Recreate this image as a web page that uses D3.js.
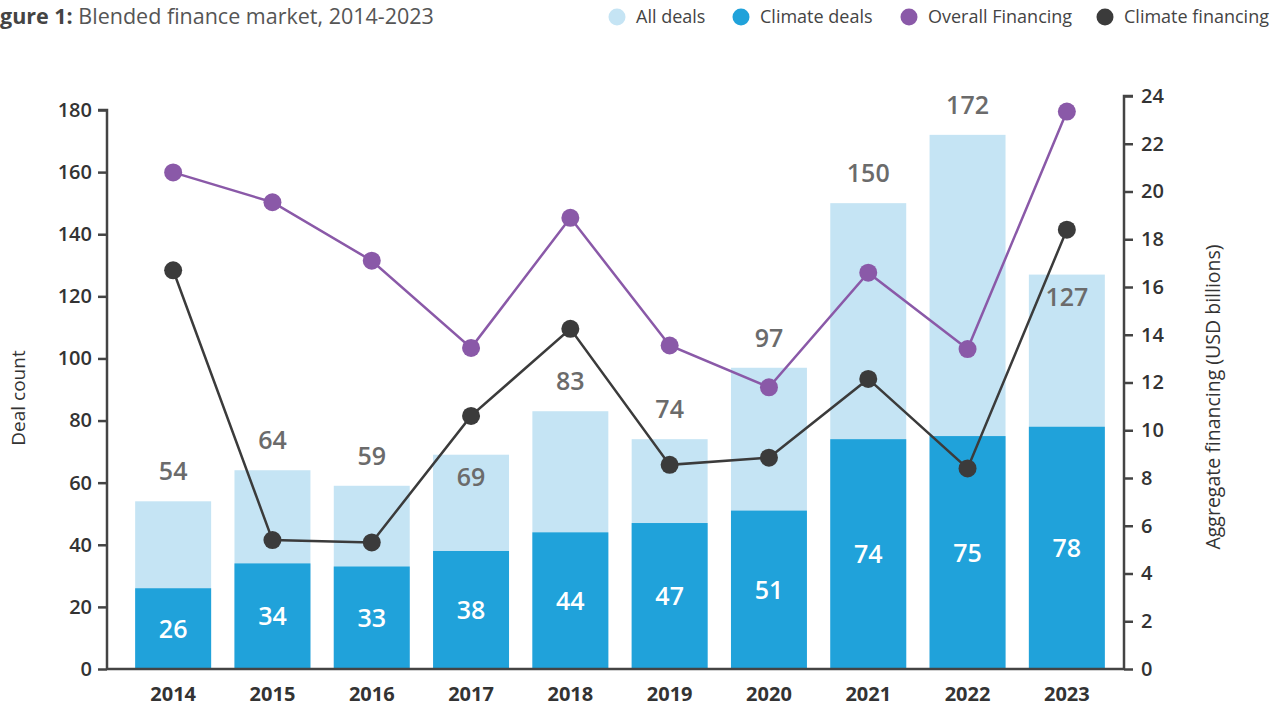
<!DOCTYPE html>
<html>
<head>
<meta charset="utf-8">
<script src="https://cdn.jsdelivr.net/npm/d3@7"></script>
<style>
  body { margin: 0; background: #fff; }
  svg text { font-family: "Open Sans", sans-serif; }
</style>
</head>
<body>
<script>
var width = 1282,
    height = 710;

// data
var years = ["2014", "2015", "2016", "2017", "2018", "2019", "2020", "2021", "2022", "2023"];
var allDeals = [54, 64, 59, 69, 83, 74, 97, 150, 172, 127];
var climateDeals = [26, 34, 33, 38, 44, 47, 51, 74, 75, 78];
var overallFinancing = [20.8, 19.55, 17.1, 13.45, 18.9, 13.55, 11.8, 16.6, 13.4, 23.35];
var climateFinancing = [16.7, 5.4, 5.3, 10.6, 14.25, 8.55, 8.85, 12.15, 8.4, 18.4];
var leftTicks = d3.range(0, 181, 20);
var rightTicks = d3.range(0, 25, 2);
// totals whose label sits inside the bar (to dodge the lines)
var insideTotals = ["2017", "2023"];

var legendItems = [
  {name: "All deals", color: "#c5e4f4"},
  {name: "Climate deals", color: "#20a2da"},
  {name: "Overall Financing", color: "#8a59a8"},
  {name: "Climate financing", color: "#3b3b3b"}
];

var axisColor = "#444",
    textColor = "#333";

var svg = d3.select("body").append("svg")
    .attr("width", width)
    .attr("height", height);

var x = d3.scaleBand()
    .domain(years)
    .range([123.5, 1116.5])
    .paddingInner(0.235)
    .paddingOuter(0.1175);

var yLeft = d3.scaleLinear().domain([0, 180]).range([669, 110]);
var yRight = d3.scaleLinear().domain([0, 24]).range([669, 96]);

// title, cut off at the left edge like the source
var title = svg.append("text")
    .attr("y", 24)
    .attr("font-size", 21.5)
    .attr("fill", "#555");
var t1 = title.append("tspan").attr("font-weight", 700).attr("fill", "#444").text("Figure 1:");
title.append("tspan").attr("font-weight", 400).text(" Blended finance market, 2014-2023");
var cut = t1.node().getSubStringLength(0, 2);
title.attr("x", -cut);

// legend
var legendX = [617, 741, 909, 1105];
var lg = svg.append("g").attr("class", "legend")
    .selectAll("g").data(legendItems)
  .enter().append("g")
    .attr("transform", (d, i) => "translate(" + legendX[i] + ",17)");
lg.append("circle").attr("r", 8.5).attr("fill", d => d.color);
lg.append("text")
    .attr("x", 19)
    .attr("dy", "0.35em")
    .attr("font-size", 18)
    .attr("fill", "#444")
    .text(d => d.name);

// bars
var bars = svg.append("g").attr("class", "bars");
bars.selectAll("rect.all").data(years)
  .enter().append("rect")
    .attr("class", "all")
    .attr("x", d => x(d))
    .attr("width", x.bandwidth())
    .attr("y", (d, i) => yLeft(allDeals[i]))
    .attr("height", (d, i) => yLeft(0) - yLeft(allDeals[i]))
    .attr("fill", legendItems[0].color);

bars.selectAll("rect.climate").data(years)
  .enter().append("rect")
    .attr("class", "climate")
    .attr("x", d => x(d))
    .attr("width", x.bandwidth())
    .attr("y", (d, i) => yLeft(climateDeals[i]))
    .attr("height", (d, i) => yLeft(0) - yLeft(climateDeals[i]))
    .attr("fill", legendItems[1].color);

// bar labels
var cx = d => x(d) + x.bandwidth() / 2;
svg.append("g").selectAll("text").data(years)
  .enter().append("text")
    .attr("x", cx)
    .attr("y", (d, i) => insideTotals.indexOf(d) >= 0 ? yLeft(allDeals[i]) + 31 : yLeft(allDeals[i]) - 21)
    .attr("text-anchor", "middle")
    .attr("font-size", 25)
    .attr("font-weight", 600)
    .attr("fill", "#6b6b6b")
    .text((d, i) => allDeals[i]);

svg.append("g").selectAll("text").data(years)
  .enter().append("text")
    .attr("x", cx)
    .attr("y", (d, i) => (yLeft(climateDeals[i]) + yLeft(0)) / 2)
    .attr("dy", "0.36em")
    .attr("text-anchor", "middle")
    .attr("font-size", 25)
    .attr("font-weight", 600)
    .attr("fill", "#fff")
    .text((d, i) => climateDeals[i]);

// axes
var leftAxis = svg.append("g")
    .attr("transform", "translate(107,0)")
    .call(d3.axisLeft(yLeft).tickValues(leftTicks).tickSize(9).tickPadding(6));
var rightAxis = svg.append("g")
    .attr("transform", "translate(1124,0)")
    .call(d3.axisRight(yRight).tickValues(rightTicks).tickSize(9).tickPadding(8));
[leftAxis, rightAxis].forEach(function(a) {
  a.select(".domain").attr("stroke", axisColor).attr("stroke-width", 2.5)
    .attr("d", a === leftAxis ? "M-9,110H0V669" : "M9,96H0V669");
  a.selectAll(".tick line").attr("stroke", axisColor).attr("stroke-width", 2.5);
  a.selectAll(".tick text")
    .attr("font-size", 20)
    .attr("font-weight", 600)
    .attr("fill", textColor)
    .attr("font-family", "Open Sans, sans-serif");
});

var xAxis = svg.append("g")
    .attr("transform", "translate(0,669)")
    .call(d3.axisBottom(x).tickSize(0).tickPadding(18));
xAxis.select(".domain").attr("stroke", axisColor).attr("stroke-width", 2.5)
    .attr("d", "M107,0H1124");
xAxis.selectAll(".tick text")
    .attr("font-size", 20)
    .attr("font-weight", 700)
    .attr("fill", textColor)
    .attr("font-family", "Open Sans, sans-serif");

// axis titles
svg.append("text")
    .attr("transform", "translate(25,398) rotate(-90)")
    .attr("text-anchor", "middle")
    .attr("font-size", 19)
    .attr("fill", textColor)
    .text("Deal count");
svg.append("text")
    .attr("transform", "translate(1220,397) rotate(-90)")
    .attr("text-anchor", "middle")
    .attr("font-size", 19.5)
    .attr("fill", textColor)
    .text("Aggregate financing (USD billions)");

// lines
var series = [
  {values: overallFinancing, color: legendItems[2].color},
  {values: climateFinancing, color: legendItems[3].color}
];
var line = d3.line()
    .x((d, i) => cx(years[i]))
    .y(d => yRight(d));

series.forEach(function(s) {
  var g = svg.append("g").attr("class", "series");
  g.append("path")
      .datum(s.values)
      .attr("d", line)
      .attr("fill", "none")
      .attr("stroke", s.color)
      .attr("stroke-width", 2.5);
  g.selectAll("circle").data(s.values)
    .enter().append("circle")
      .attr("cx", (d, i) => cx(years[i]))
      .attr("cy", d => yRight(d))
      .attr("r", 9)
      .attr("fill", s.color);
});
</script>
</body>
</html>
